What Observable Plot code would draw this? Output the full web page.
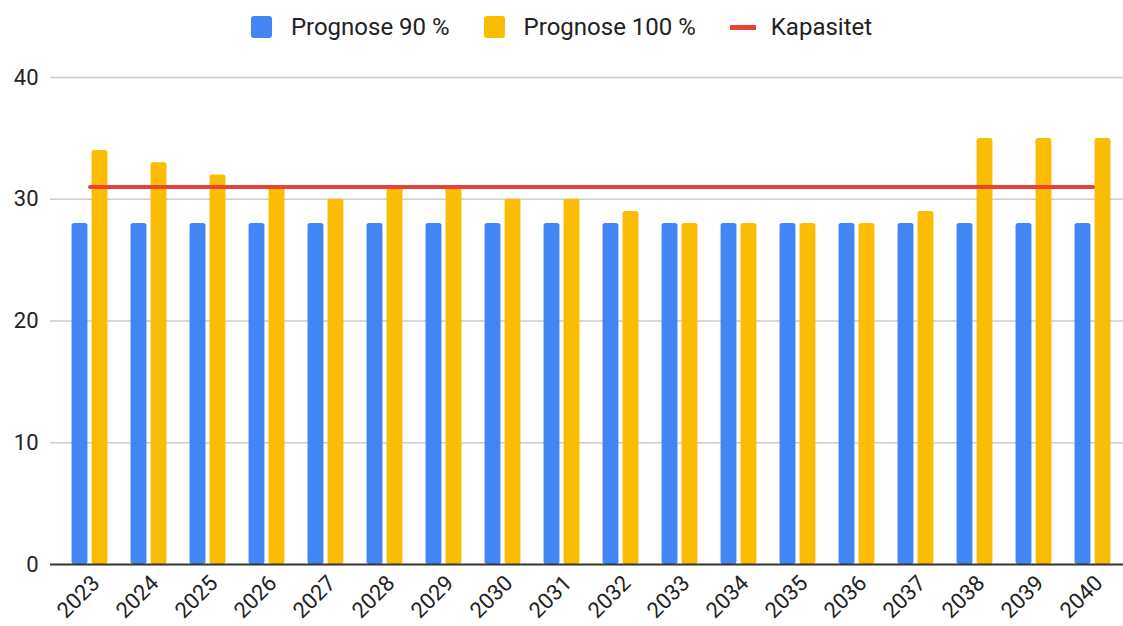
<!DOCTYPE html>
<html><head><meta charset="utf-8">
<script src="https://cdn.jsdelivr.net/npm/d3@7"></script>
<script src="https://cdn.jsdelivr.net/npm/@observablehq/plot@0.6"></script>
<style>
body{margin:0;background:#fff;font-family:Roboto,sans-serif;}
#legend{height:50px;display:flex;justify-content:center;align-items:flex-start;box-sizing:border-box;}
.item{display:flex;align-items:center;height:22px;margin:16px 17px 0 17px;font-size:24px;color:#222;}
.sw{width:21px;height:22px;border-radius:3px;margin-right:19px;}
.ln{width:26px;height:5px;margin-right:15px;}
</style></head><body>
<div id="legend"></div><div id="chart"></div>
<script>
const years = ["2023","2024","2025","2026","2027","2028","2029","2030","2031","2032","2033","2034","2035","2036","2037","2038","2039","2040"];
const prognose90 = [28,28,28,28,28,28,28,28,28,28,28,28,28,28,28,28,28,28];
const prognose100 = [34,33,32,31,30,31,31,30,30,29,28,28,28,28,29,35,35,35];
const kapasitet = [31,31,31,31,31,31,31,31,31,31,31,31,31,31,31,31,31,31];
const seriesNames = ["Prognose 90 %","Prognose 100 %","Kapasitet"];
const colors = ["#4285F4","#FBBC04","#EA4335"];
const yTicks = [0,10,20,30,40];

const legend = document.getElementById("legend");
seriesNames.forEach((n,i)=>{
  const it = document.createElement("div"); it.className="item";
  const s = document.createElement("div"); s.className = i<2 ? "sw" : "ln"; s.style.background = colors[i];
  const t = document.createElement("span"); t.textContent = n;
  it.appendChild(s); it.appendChild(t); legend.appendChild(it);
});

const data = years.map((y,i)=>({year:y, p90:prognose90[i], p100:prognose100[i], kap:kapasitet[i]}));
const bw = 1064/18, half = bw/2;
const chart = Plot.plot({
  width:1123, height:576, marginTop:27, marginBottom:62, marginLeft:59, marginRight:0,
  style:{fontFamily:"Roboto, sans-serif", fontSize:"22px", color:"#222", background:"white"},
  x:{domain:years, padding:0, label:null},
  y:{domain:[0,40], label:null},
  marks:[
    Plot.ruleY(yTicks.slice(1), {stroke:"#ccc", strokeWidth:1.5, strokeOpacity:1, insetLeft:-9}),
    Plot.axisY({ticks:yTicks, tickSize:0, tickPadding:21, label:null, fill:"#222"}),
    Plot.axisX({tickSize:0, tickRotate:-45, tickPadding:4, dx:6, dy:11, fontSize:22, label:null, fill:"#222"}),
    Plot.barY(data,{x:"year", y:"p90", fill:colors[0], insetLeft:half-18, insetRight:half+2, rx:2.5}),
    Plot.barY(data,{x:"year", y:"p100", fill:colors[1], insetLeft:half+2, insetRight:half-18, rx:2.5}),
    Plot.ruleY([0], {stroke:"#333", strokeWidth:2, insetLeft:-9}),
    Plot.lineY(data, {x:"year", y:"kap", stroke:colors[2], strokeWidth:4})
  ]
});
document.getElementById("chart").appendChild(chart);
</script>
</body></html>
